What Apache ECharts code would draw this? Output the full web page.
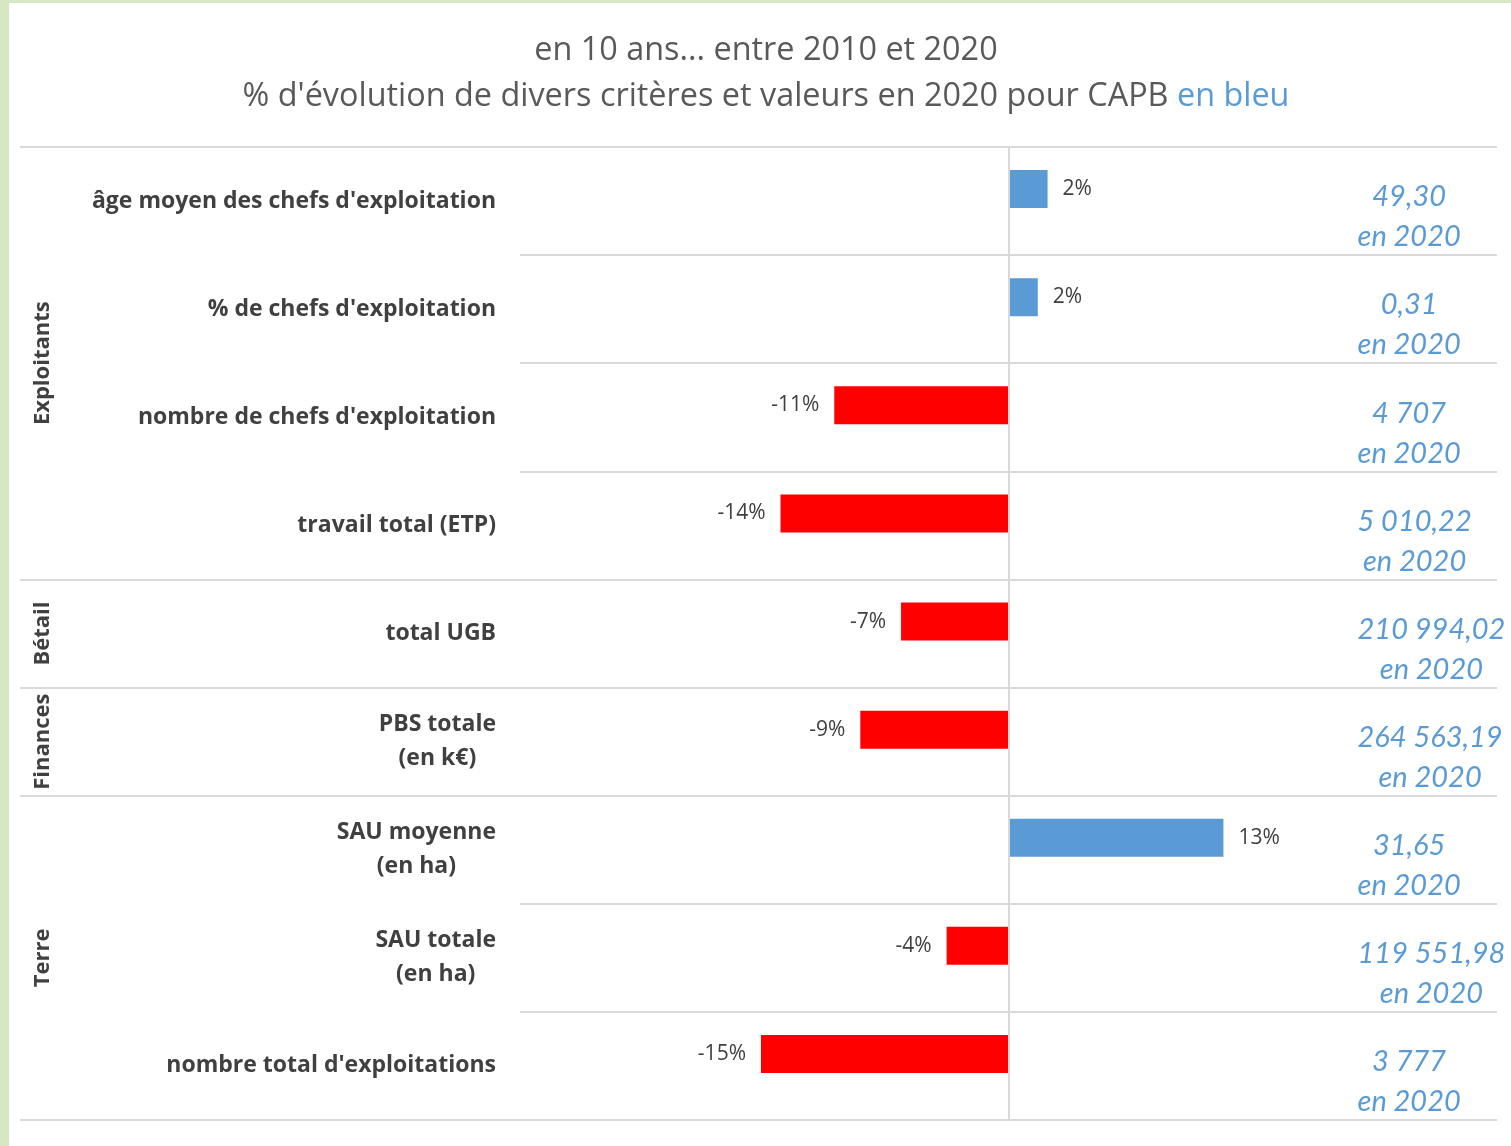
<!DOCTYPE html>
<html>
<head>
<meta charset="utf-8">
<script src="https://cdn.jsdelivr.net/npm/echarts@6.0.0/dist/echarts.min.js"></script>
<style>
  html, body { margin: 0; padding: 0; background: #fff; }
  #chart { width: 1511px; height: 1146px; }
</style>
</head>
<body>
<div id="chart"></div>
<script>
var categories = [
  "âge moyen des chefs d'exploitation",
  "% de chefs d'exploitation",
  "nombre de chefs d'exploitation",
  "travail total (ETP)",
  "total UGB",
  "PBS totale\n(en k€)",
  "SAU moyenne\n(en ha)",
  "SAU totale\n(en ha)",
  "nombre total d'exploitations"
];
var evolution = [2.4, 1.8, -10.7, -14.0, -6.6, -9.1, 13.2, -3.8, -15.2];
var values2020 = ['49,30', '0,31', '4 707', '5 010,22', '210 994,02', '264 563,19', '31,65', '119 551,98', '3 777'];
var groupNames = ['Exploitants', 'Bétail', 'Finances', 'Terre'];
var groupSizes = [4, 1, 1, 3];

var FONT = 'Open Sans';
var BLUE = '#5b9bd5';
var RED = '#ff0000';
var GRID_LINE = '#d9d9d9';

// start index and centre of each group along the category axis
var groupStarts = [];
var groupCenters = {};
var pos = 0;
groupNames.forEach(function (g, i) {
  groupStarts.push(pos);
  groupCenters[pos + groupSizes[i] / 2] = g;
  pos += groupSizes[i];
});

var chart = echarts.init(document.getElementById('chart'));

var option = {
  backgroundColor: '#fff',
  animation: false,
  graphic: [
    { type: 'rect', shape: { x: 0, y: 0, width: 9, height: 1146 }, style: { fill: '#d5e8c3' } },
    { type: 'rect', shape: { x: 0, y: 0, width: 1511, height: 3 }, style: { fill: '#d5e8c3' } }
  ],
  title: {
    left: 766,
    textAlign: 'center',
    top: 28,
    padding: 0,
    text: 'en 10 ans... entre 2010 et 2020\n{a|% d\'évolution de divers critères et valeurs en 2020 pour CAPB }{b|en bleu}',
    textStyle: {
      fontFamily: FONT,
      fontWeight: 'normal',
      fontSize: 32.4,
      lineHeight: 46,
      color: '#595959',
      rich: {
        a: { fontFamily: FONT, fontSize: 32.4, lineHeight: 46, color: '#595959' },
        b: { fontFamily: FONT, fontSize: 32.4, lineHeight: 46, color: BLUE }
      }
    }
  },
  grid: [
    { left: 520, right: 14, top: 147, bottom: 26 },
    { left: 20, width: 500, top: 147, bottom: 26 }
  ],
  xAxis: [
    { type: 'value', gridIndex: 0, min: -30, max: 30, show: false },
    { type: 'value', gridIndex: 1, min: 0, max: 1, show: false }
  ],
  yAxis: [
    {
      type: 'category',
      gridIndex: 0,
      data: categories,
      inverse: true,
      axisLine: { show: false },
      axisTick: { show: false },
      splitLine: { show: true, lineStyle: { color: GRID_LINE, width: 2 } },
      axisLabel: {
        margin: 24,
        align: 'right',
        formatter: function (v) {
          return v.split('\n').map(function (s) { return '{c|' + s + '}'; }).join('\n');
        },
        rich: {
          c: { fontFamily: FONT, fontWeight: 'bold', fontSize: 23, lineHeight: 34, color: '#404040', align: 'center' }
        }
      }
    },
    {
      type: 'category',
      gridIndex: 1,
      data: categories,
      inverse: true,
      axisLine: { show: false },
      axisTick: { show: false },
      axisLabel: { show: false },
      splitLine: {
        show: true,
        interval: function (index) { return groupStarts.indexOf(index) >= 0; },
        lineStyle: { color: GRID_LINE, width: 2 }
      }
    },
    {
      type: 'value',
      gridIndex: 1,
      position: 'left',
      min: 0,
      max: categories.length,
      interval: 0.5,
      inverse: true,
      offset: -34,
      axisLine: { show: false },
      axisTick: { show: false },
      splitLine: { show: false },
      axisLabel: {
        rotate: 90,
        margin: 0,
        showMinLabel: false,
        showMaxLabel: false,
        fontFamily: FONT,
        fontWeight: 'bold',
        fontSize: 22,
        color: '#404040',
        formatter: function (v) { return groupCenters[v] || ''; }
      }
    }
  ],
  series: [
    {
      type: 'bar',
      xAxisIndex: 0,
      yAxisIndex: 0,
      barWidth: 38,
      barGap: '-37%',
      data: evolution.map(function (v) {
        return {
          value: v,
          itemStyle: { color: v >= 0 ? BLUE : RED },
          label: { position: v >= 0 ? 'right' : 'left' }
        };
      }),
      label: {
        show: true,
        distance: 15,
        fontFamily: FONT,
        fontSize: 21,
        color: '#404040',
        formatter: function (p) { return Math.round(p.value) + '%'; }
      },
      markLine: {
        silent: true,
        symbol: 'none',
        label: { show: false },
        lineStyle: { color: GRID_LINE, width: 2, type: 'solid' },
        data: [{ xAxis: 0 }]
      }
    },
    {
      // invisible companion series carrying the 2020 values
      type: 'bar',
      xAxisIndex: 0,
      yAxisIndex: 0,
      barWidth: 38,
      barGap: '-37%',
      itemStyle: { color: 'rgba(0,0,0,0)' },
      data: values2020.map(function () { return 0; }),
      label: {
        show: true,
        position: 'right',
        distance: 349,
        align: 'left',
        padding: [8, 0, 0, 0],
        formatter: function (p) {
          return '{v|' + values2020[p.dataIndex] + '}\n{v|en 2020}';
        },
        rich: {
          v: { fontFamily: 'Lato', fontStyle: 'italic', fontSize: 29, lineHeight: 40, color: BLUE, align: 'center' }
        }
      }
    }
  ]
};

chart.setOption(option);
</script>
</body>
</html>
